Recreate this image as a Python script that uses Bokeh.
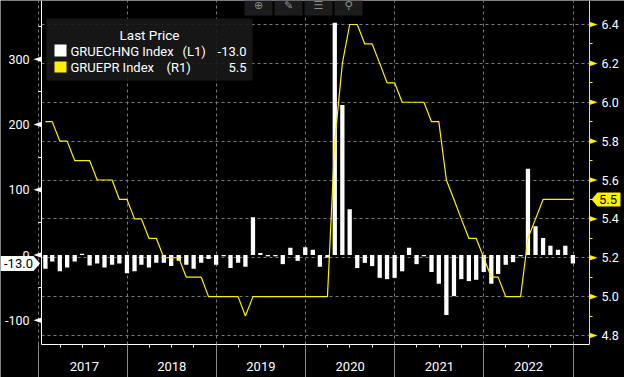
import calendar
import datetime as dt

from bokeh.plotting import figure
from bokeh.models import (Range1d, LinearAxis, FixedTicker, Grid, Label, BoxAnnotation,
                          PolyAnnotation, ColumnDataSource, PrintfTickFormatter,
                          CustomJSTickFormatter)
from bokeh.embed import file_html
from bokeh.resources import INLINE

# ---------------- data ----------------
YEARS = [2017, 2018, 2019, 2020, 2021, 2022]
YEAR_LABELS = ["2017", "2018", "2019", "2020", "2021", "2022"]

# GRUECHNG Index (L1): monthly change of unemployed, thousands
CHANGE_2017 = [-21, -10, -25, -19, -10, 2, -16, -13, -19, -15, -13, -28]
CHANGE_2018 = [-25, -15, -19, -12, -12, -17, -9, -15, -21, -12, -6, -15]
CHANGE_2019 = [-2, -20, -12, -18, 58, 3, -2, -2, -14, 11, -9, 12]
CHANGE_2020 = [8, -18, -4, 356, 230, 70, -20, -12, -17, -35, -37, -35]
CHANGE_2021 = [-25, 11, -14, -2, -26, -44, -92, -63, -37, -40, -38, -26]
CHANGE_2022 = [-44, -29, -15, -11, -2, 132, 44, 26, 14, 8, 14, -13]

# GRUEPR Index (R1): unemployment rate, %
RATE_2017 = [5.9, 5.9, 5.8, 5.8, 5.7, 5.7, 5.7, 5.6, 5.6, 5.6, 5.5, 5.5]
RATE_2018 = [5.4, 5.4, 5.3, 5.3, 5.2, 5.2, 5.2, 5.1, 5.1, 5.1, 5.0, 5.0]
RATE_2019 = [5.0, 5.0, 5.0, 4.9, 5.0, 5.0, 5.0, 5.0, 5.0, 5.0, 5.0, 5.0]
RATE_2020 = [5.0, 5.0, 5.0, 5.8, 6.2, 6.4, 6.4, 6.3, 6.3, 6.2, 6.1, 6.1]
RATE_2021 = [6.0, 6.0, 6.0, 6.0, 5.9, 5.9, 5.6, 5.5, 5.4, 5.3, 5.3, 5.2]
RATE_2022 = [5.1, 5.1, 5.0, 5.0, 5.0, 5.3, 5.4, 5.5, 5.5, 5.5, 5.5, 5.5]

LAST_CHANGE = -13.0
LAST_RATE = 5.5

LEFT_TICKS = [-100, 0, 100, 200, 300]
LEFT_MINOR = [-50, 50, 150, 250, 350]
RIGHT_TICKS = [4.8, 5.0, 5.2, 5.4, 5.6, 5.8, 6.0, 6.2, 6.4]
RIGHT_MINOR = [4.9, 5.1, 5.3, 5.5, 5.7, 5.9, 6.1, 6.3]

CHANGE = CHANGE_2017 + CHANGE_2018 + CHANGE_2019 + CHANGE_2020 + CHANGE_2021 + CHANGE_2022
RATE = RATE_2017 + RATE_2018 + RATE_2019 + RATE_2020 + RATE_2021 + RATE_2022

# ---------------- geometry (canvas pixels) ----------------
EPOCH = dt.datetime(1970, 1, 1)
DAY = 86400000.0


def ms(d):
    return (d - EPOCH).total_seconds() * 1000.0


MONTH_END = [ms(dt.datetime(y, m, calendar.monthrange(y, m)[1])) for y in YEARS for m in range(1, 13)]
YEAR_START = [ms(dt.datetime(y, 1, 1)) for y in YEARS + [YEARS[-1] + 1]]
QUARTERS = [ms(dt.datetime(y, m, 1)) for y in YEARS for m in (4, 7, 10)]

W, H = 624, 377
FL, FR, FT, FB = 41, 589, 0, 344             # plot area
X0 = ms(dt.datetime(2017, 1, 15))            # date at the left edge of plot area
PXD = 0.2442                                 # pixels per day
ZERO_PX, PX_L = 254.5, 0.6525                # left scale: pixel of 0, px per unit
R_REF_V, R_REF_PX, PX_R = 6.4, 24.0, 194.375  # right scale


def px_x(px):
    return X0 + (px - FL) / PXD * DAY


def px_y(py):
    return (ZERO_PX - py) / PX_L


def px_yr(py):
    return R_REF_V - (py - R_REF_PX) / PX_R


def yl_px(v):
    return ZERO_PX - v * PX_L


def yr_px(v):
    return R_REF_PX + (R_REF_V - v) * PX_R


FONT = "Roboto"
YELLOW = "#fff000"
GRID = "#7a7a7a"

p = figure(width=W, height=H, x_axis_type="datetime",
           x_range=Range1d(px_x(0), px_x(W)), y_range=Range1d(px_y(H), px_y(0)),
           output_backend="svg", toolbar_location=None,
           min_border_left=0, min_border_right=0, min_border_top=0, min_border_bottom=0,
           background_fill_color="black", border_fill_color="black",
           outline_line_color=None)
p.extra_y_ranges = {"right": Range1d(px_yr(H), px_yr(0))}

# ---- x axis: year separators + quarter ticks
xt = FixedTicker(ticks=YEAR_START, minor_ticks=QUARTERS)
xa = p.xaxis[0]
xa.ticker = xt
xa.fixed_location = px_y(FB)
xa.bounds = (px_x(FL), px_x(FR))
xa.axis_line_color = "white"
xa.major_tick_in = 0
xa.major_tick_out = H - FB
xa.major_tick_line_color = "#8a8a8a"
xa.minor_tick_in = 0
xa.minor_tick_out = 3
xa.minor_tick_line_color = "white"
xa.major_label_text_font_size = "1px"
xa.major_label_text_color = None

# ---- x axis: year labels centred in the visible part of each year
year_mid = [(max(a, px_x(FL)) + min(b, px_x(FR))) / 2 for a, b in zip(YEAR_START[:-1], YEAR_START[1:])]
xa2 = LinearAxis(ticker=FixedTicker(ticks=year_mid),
                 formatter=CustomJSTickFormatter(args=dict(pos=year_mid, labs=YEAR_LABELS), code="""
let best = 0;
for (let i = 0; i < pos.length; i++) {
  if (Math.abs(pos[i] - tick) < Math.abs(pos[best] - tick)) best = i;
}
return labs[best];
"""))
xa2.fixed_location = px_y(FB)
xa2.axis_line_color = None
xa2.major_tick_line_color = None
xa2.minor_tick_line_color = None
xa2.major_tick_in = 0
xa2.major_tick_out = 0
xa2.major_label_standoff = 17
xa2.major_label_text_color = "white"
xa2.major_label_text_font = FONT
xa2.major_label_text_font_size = "13px"
p.add_layout(xa2, "below")

p.xgrid.ticker = xt
p.xgrid.bounds = (px_x(FL), px_x(FR))
p.xgrid.cross_bounds = (px_y(FB), px_y(FT))
p.xgrid.grid_line_color = GRID
p.xgrid.grid_line_dash = "3 3"
p.ygrid.visible = False

# ---- left axis
ya = p.yaxis[0]
ya.ticker = FixedTicker(ticks=LEFT_TICKS, minor_ticks=LEFT_MINOR)
ya.formatter = PrintfTickFormatter(format="%d")
ya.fixed_location = px_x(FL)
ya.bounds = (px_y(FB), px_y(FT))
ya.axis_line_color = "white"
ya.major_tick_in = 0
ya.major_tick_out = 0
ya.major_tick_line_color = None
ya.minor_tick_in = 0
ya.minor_tick_out = 3
ya.minor_tick_line_color = "white"
ya.major_label_text_color = "white"
ya.major_label_text_font = FONT
ya.major_label_text_font_size = "12.5px"
ya.major_label_standoff = 9

# ---- right axis
ra = LinearAxis(y_range_name="right",
                ticker=FixedTicker(ticks=RIGHT_TICKS, minor_ticks=RIGHT_MINOR),
                formatter=PrintfTickFormatter(format="%.1f"))
ra.fixed_location = px_x(FR)
ra.bounds = (px_yr(FB), px_yr(FT))
ra.axis_line_color = YELLOW
ra.major_tick_in = 0
ra.major_tick_out = 0
ra.major_tick_line_color = None
ra.minor_tick_in = 0
ra.minor_tick_out = 3
ra.minor_tick_line_color = YELLOW
ra.major_label_text_color = "white"
ra.major_label_text_font = FONT
ra.major_label_text_font_size = "12.5px"
ra.major_label_standoff = 9
p.add_layout(ra, "right")

p.add_layout(Grid(dimension=1, ticker=FixedTicker(ticks=RIGHT_TICKS), y_range_name="right",
                  cross_bounds=(px_x(FL), px_x(FR)),
                  grid_line_color=GRID, grid_line_dash="3 3"))

# ---- data
src = ColumnDataSource(dict(x=MONTH_END, change=CHANGE, rate=RATE))
p.vbar(x="x", top="change", bottom=0, width=17.5 * DAY, source=src,
       fill_color="white", line_color=None)
p.line(x="x", y="rate", source=src, y_range_name="right", line_color=YELLOW, line_width=1.2)

# ---- tick triangles
for v in LEFT_TICKS:
    yc = yl_px(v)
    p.add_layout(PolyAnnotation(xs=[px_x(FL), px_x(FL), px_x(FL - 8)],
                                ys=[px_y(yc - 2.8), px_y(yc + 2.8), px_y(yc)],
                                fill_color="white", fill_alpha=1, line_color=None))
for v in RIGHT_TICKS:
    yc = yr_px(v)
    p.add_layout(PolyAnnotation(xs=[px_x(FR), px_x(FR), px_x(FR + 8)],
                                ys=[px_y(yc - 2.8), px_y(yc + 2.8), px_y(yc)],
                                fill_color=YELLOW, fill_alpha=1, line_color=None))

# ---- last value tags
yc = yl_px(LAST_CHANGE)
p.add_layout(PolyAnnotation(xs=[px_x(0), px_x(33), px_x(39.5), px_x(33), px_x(0)],
                            ys=[px_y(yc - 7.5), px_y(yc - 7.5), px_y(yc), px_y(yc + 7.5), px_y(yc + 7.5)],
                            fill_color="white", fill_alpha=1, line_color=None))
p.add_layout(Label(x=px_x(18), y=px_y(yc), text="%.1f" % LAST_CHANGE, text_align="center",
                   text_baseline="middle", text_color="black", text_font=FONT, text_font_size="13px"))
yc = yr_px(LAST_RATE)
p.add_layout(PolyAnnotation(xs=[px_x(FR + 2), px_x(FR + 8), px_x(620), px_x(620), px_x(FR + 8)],
                            ys=[px_y(yc), px_y(yc - 7), px_y(yc - 7), px_y(yc + 7), px_y(yc + 7)],
                            fill_color=YELLOW, fill_alpha=1, line_color=None))
p.add_layout(Label(x=px_x(607.5), y=px_y(yc), text="%.1f" % LAST_RATE, text_align="center",
                   text_baseline="middle", text_color="black", text_font=FONT, text_font_size="13px"))

# ---- toolbar boxes (top)
ICONS = ["\u2295", "\u270e", "\u2630", "\u26b2"]
for (a, b), ic in zip([(244, 272), (274, 302), (304, 332), (334, 362)], ICONS):
    p.add_layout(BoxAnnotation(left=px_x(a), right=px_x(b), top=px_y(0), bottom=px_y(15),
                               fill_color="#1c1c1c", fill_alpha=1, line_color=None))
    p.add_layout(Label(x=px_x((a + b) / 2), y=px_y(5), text=ic, text_align="center",
                       text_baseline="middle", text_color="#8c8c8c", text_font="DejaVu Sans",
                       text_font_size="11px"))

# ---- legend
p.add_layout(BoxAnnotation(left=px_x(46), right=px_x(252), top=px_y(18), bottom=px_y(80),
                           fill_color="#181818", fill_alpha=0.9, line_color=None))
p.add_layout(Label(x=px_x(149), y=px_y(34.5), text="Last Price", text_align="center",
                   text_baseline="middle", text_color="white", text_font=FONT, text_font_size="13.5px"))
p.add_layout(BoxAnnotation(left=px_x(54), right=px_x(66), top=px_y(44), bottom=px_y(56),
                           fill_color="white", fill_alpha=1, line_color=None))
p.add_layout(BoxAnnotation(left=px_x(54), right=px_x(66), top=px_y(61), bottom=px_y(72),
                           fill_color=YELLOW, fill_alpha=1, line_color=None))
rows = [("GRUECHNG Index", "(L1)", 182, "%.1f" % LAST_CHANGE, 50.5),
        ("GRUEPR Index", "(R1)", 166, "%.1f" % LAST_RATE, 67)]
for name, side, sx, val, ry in rows:
    for txt, xx, al in [(name, 70, "left"), (side, sx, "left"), (val, 246, "right")]:
        p.add_layout(Label(x=px_x(xx), y=px_y(ry), text=txt, text_align=al,
                           text_baseline="middle", text_color="white", text_font=FONT,
                           text_font_size="13px"))

open("out.html", "w").write(file_html(p, INLINE))
